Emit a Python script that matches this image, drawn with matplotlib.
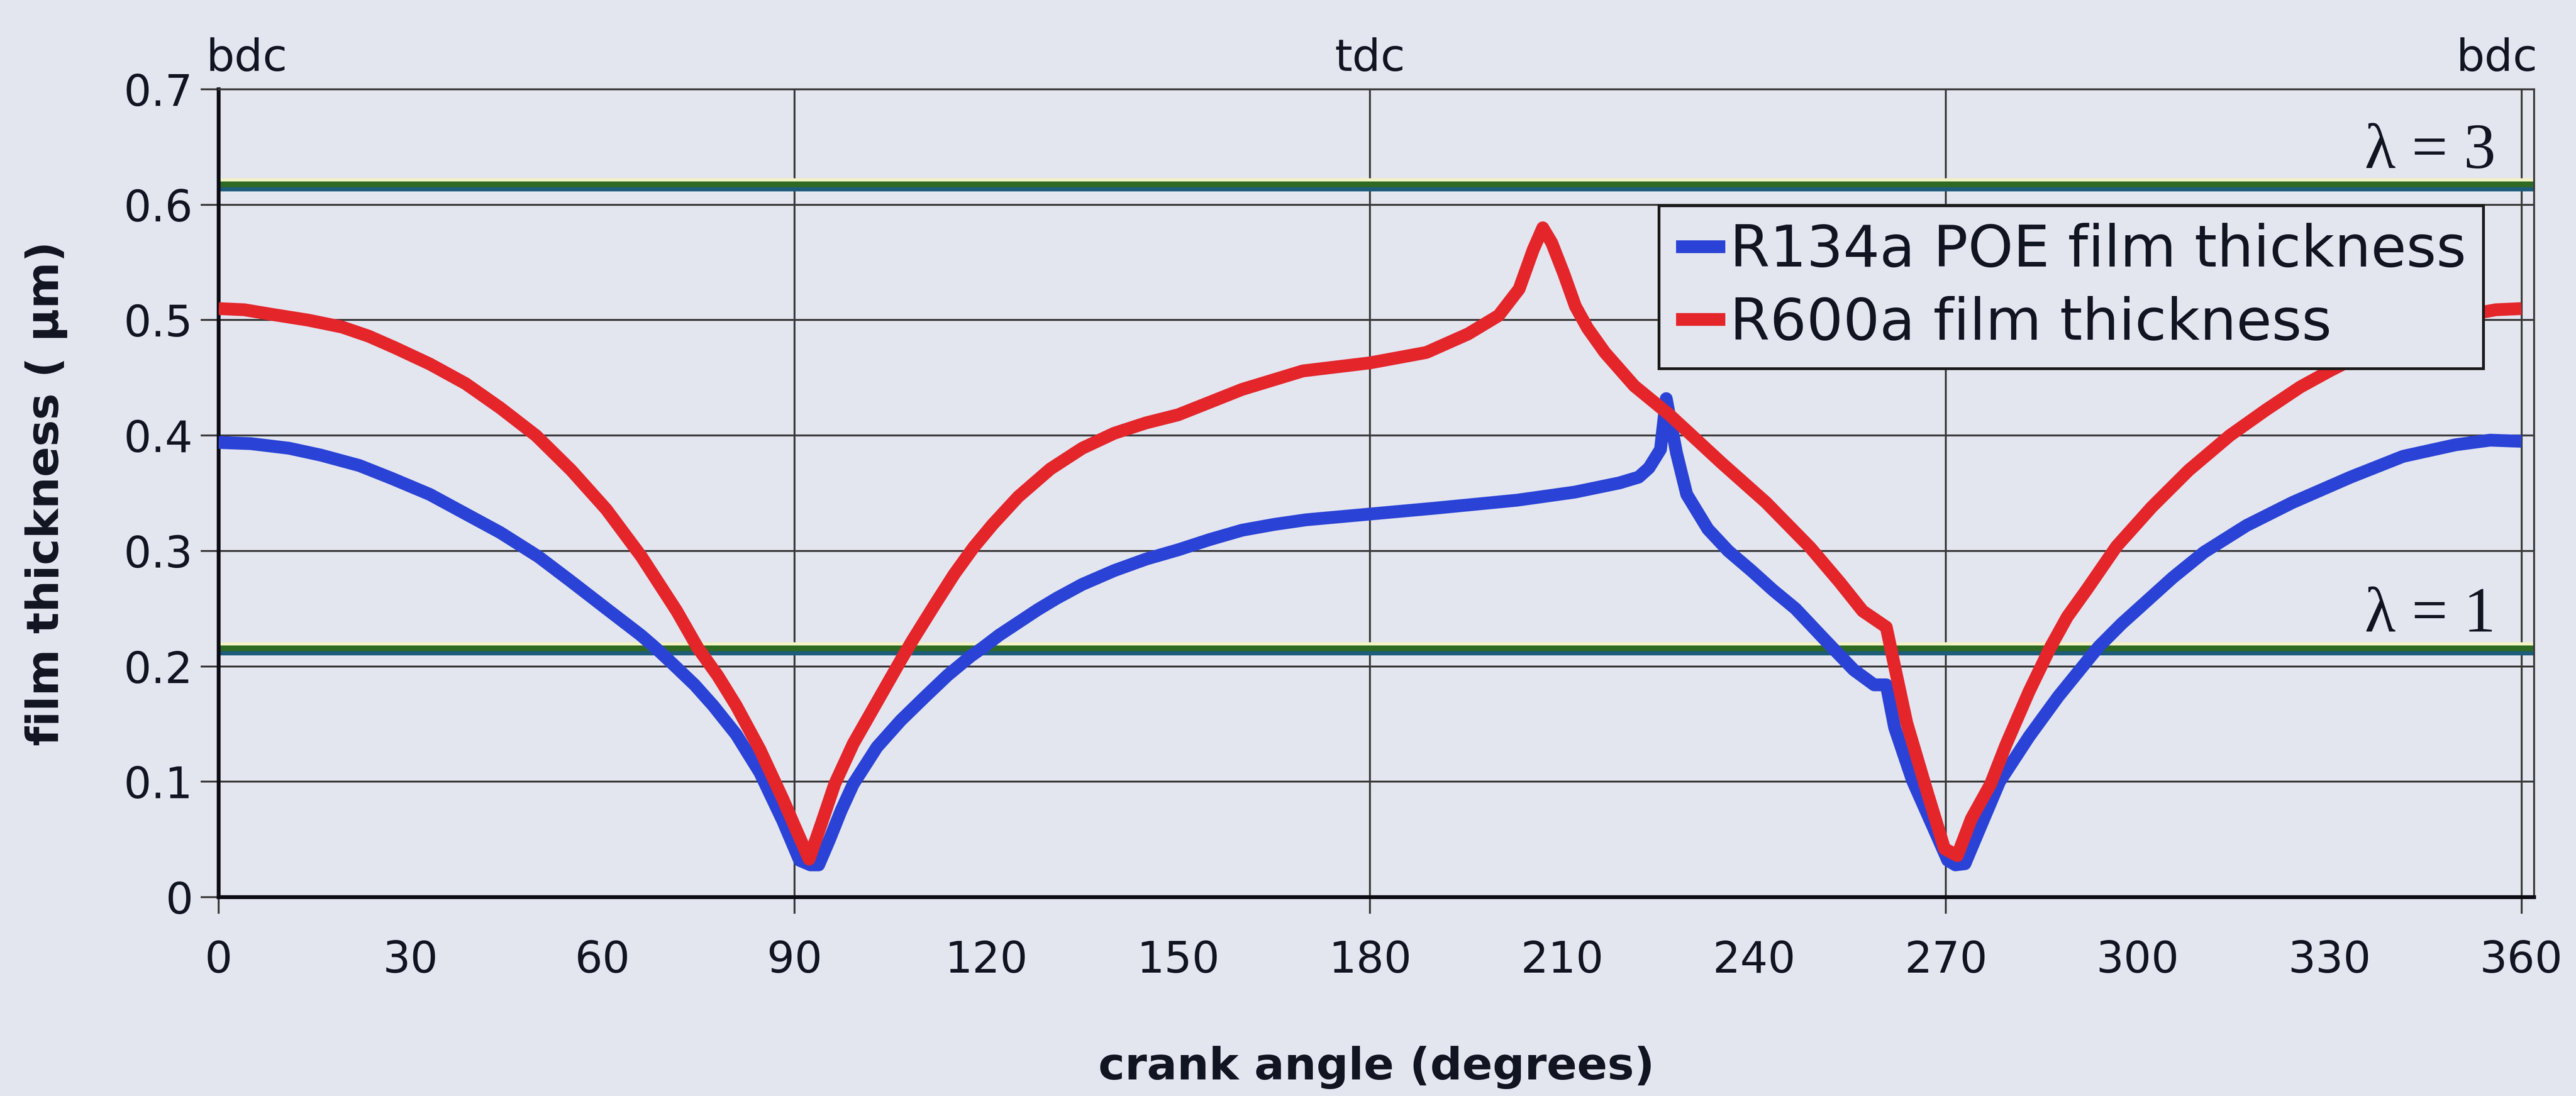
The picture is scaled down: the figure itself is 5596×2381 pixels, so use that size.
"""
Film thickness vs crank angle for R134a/POE and R600a, with lambda = 1 and
lambda = 3 reference lines.
"""

import matplotlib

matplotlib.use("Agg")
import matplotlib.pyplot as plt
import matplotlib.patheffects as pe

# ---- data ---------------------------------------------------------------
r134a_angle = [0, 5, 11, 16, 22, 27, 33, 38, 44, 50, 55, 60.6, 66, 68.3, 71,
               74.4, 77.3, 80.9, 84.6, 88.2, 90.8, 92.5, 93.8, 95.5, 97.3,
               99.2, 102.9, 106.6, 110.3, 113.9, 117.6, 119.4, 122, 125, 128,
               131, 135, 140, 145, 150, 155, 160, 165, 170, 180, 190, 203,
               212, 219, 222, 223.6, 225.4, 226.3, 227.9, 229.5, 232.8, 236,
               239.6, 243, 246.5, 251.1, 255.6, 258.8, 260.7, 262, 264.8, 268,
               270.3, 271.5, 273, 275.5, 278.4, 283, 287.6, 293.9, 297.5,
               301.3, 305.5, 310.4, 317, 324.2, 333.3, 341.5, 349.7, 355.1, 360]
r134a_film = [0.394, 0.393, 0.389, 0.383, 0.374, 0.363, 0.349, 0.334, 0.316,
              0.295, 0.274, 0.250, 0.227, 0.216, 0.202, 0.184, 0.166, 0.141,
              0.108, 0.066, 0.032, 0.028, 0.028, 0.050, 0.075, 0.098, 0.130,
              0.153, 0.173, 0.192, 0.209, 0.216, 0.227, 0.238, 0.249, 0.259,
              0.271, 0.283, 0.293, 0.301, 0.310, 0.318, 0.323, 0.327, 0.332,
              0.337, 0.344, 0.351, 0.359, 0.364, 0.372, 0.388, 0.432, 0.385,
              0.349, 0.319, 0.300, 0.283, 0.266, 0.250, 0.223, 0.197, 0.184,
              0.184, 0.147, 0.101, 0.061, 0.032, 0.028, 0.029, 0.062, 0.100,
              0.139, 0.174, 0.217, 0.237, 0.256, 0.277, 0.299, 0.322, 0.342,
              0.364, 0.382, 0.392, 0.396, 0.395]

r600a_angle = [0, 4, 8.3, 14, 19.3, 23.5, 27.6, 33, 38.6, 44, 49.6, 55.1,
               60.6, 66.1, 71.6, 74.9, 78, 80.9, 84.6, 88.2, 90, 92.3, 94.3,
               96.3, 99.2, 102.9, 106.6, 108.4, 112, 115, 118, 121, 125, 130,
               135, 140, 145, 150, 155, 160, 169.5, 180, 188.8, 195.3, 200.1,
               203.3, 205.5, 207, 208.4, 210.3, 212.1, 214, 216.7, 221.3,
               226.8, 235, 241.9, 248.8, 253.4, 257, 260.7, 262, 263.9, 267.1,
               269.8, 271.8, 274, 277, 279.4, 283, 286.4, 289, 292.1, 296.7,
               302.2, 308, 314.4, 320, 325.4, 330, 336.4, 340, 344.7, 348,
               352, 356, 360]
r600a_film = [0.510, 0.509, 0.505, 0.500, 0.494, 0.486, 0.476, 0.462, 0.445,
              0.424, 0.400, 0.370, 0.336, 0.295, 0.248, 0.216, 0.192, 0.166,
              0.128, 0.085, 0.062, 0.033, 0.065, 0.098, 0.133, 0.169, 0.205,
              0.222, 0.254, 0.280, 0.303, 0.323, 0.347, 0.371, 0.389, 0.402,
              0.411, 0.418, 0.429, 0.440, 0.456, 0.463, 0.472, 0.488, 0.504,
              0.527, 0.561, 0.580, 0.567, 0.540, 0.512, 0.493, 0.472, 0.443,
              0.418, 0.376, 0.342, 0.303, 0.273, 0.248, 0.234, 0.200, 0.151,
              0.091, 0.042, 0.036, 0.068, 0.098, 0.132, 0.178, 0.217, 0.243,
              0.267, 0.304, 0.338, 0.370, 0.400, 0.422, 0.442, 0.456, 0.474,
              0.483, 0.494, 0.500, 0.505, 0.509, 0.510]

lambda_levels = [0.216, 0.618]
lambda_labels = ["λ = 1", "λ = 3"]

series_labels = ["R134a POE film thickness", "R600a film thickness"]

x_major = [0, 90, 180, 270, 360]
x_minor = [30, 60, 120, 150, 210, 240, 300, 330]
y_ticks = [0, 0.1, 0.2, 0.3, 0.4, 0.5, 0.6, 0.7]
y_tick_labels = ["0", "0.1", "0.2", "0.3", "0.4", "0.5", "0.6", "0.7"]

dead_centre_angle = [0, 180, 360]
dead_centre_text = ["bdc", "tdc", "bdc"]

# ---- styling ------------------------------------------------------------
BG = "#e3e5ef"
BLUE = "#2a43d6"
RED = "#e4262b"
GRID = "#3a3a3a"
INK = "#111522"

plt.rcParams["font.family"] = ["DejaVu Sans"]

fig = plt.figure(figsize=(27.98, 11.905), dpi=200, facecolor=BG)
ax = fig.add_axes([0.0849, 0.1814, 0.8989, 0.7371], facecolor=BG)

ax.set_xlim(0, 362)
ax.set_ylim(0, 0.7)

# lambda reference lines: green over a teal edge
for level in lambda_levels:
    ax.axhline(
        level, color="#2f6a25", lw=4.5, zorder=2,
        path_effects=[
            pe.SimpleLineShadow(offset=(0, 2.5), shadow_color="#f2f2c4", alpha=1.0),
            pe.SimpleLineShadow(offset=(0, -3.5), shadow_color="#1d5c7a", alpha=1.0),
            pe.Normal(),
        ],
    )

ax.plot(r134a_angle, r134a_film, color=BLUE, lw=10, label=series_labels[0],
        zorder=3, solid_joinstyle="round", solid_capstyle="butt")
ax.plot(r600a_angle, r600a_film, color=RED, lw=10, label=series_labels[1],
        zorder=4, solid_joinstyle="round", solid_capstyle="butt")

# ticks
ax.set_xticks(x_major)
ax.set_xticklabels([str(v) for v in x_major])
ax.set_xticks(x_minor, minor=True)
ax.set_xticklabels([str(v) for v in x_minor], minor=True)
ax.tick_params(axis="x", which="major", direction="out", length=13, width=1.5,
               color=GRID, pad=20, labelsize=34, labelcolor=INK)
ax.tick_params(axis="x", which="minor", length=0, pad=33, labelsize=34,
               labelcolor=INK)

ax.set_yticks(y_ticks)
ax.set_yticklabels(y_tick_labels)
ax.tick_params(axis="y", direction="out", length=14, width=1.5, color=GRID,
               pad=6, labelsize=34, labelcolor=INK)

ax.grid(True, which="major", color=GRID, lw=1.5, zorder=1)
ax.set_axisbelow(True)

for side in ["left", "bottom"]:
    ax.spines[side].set_linewidth(3)
    ax.spines[side].set_color("#0b0b14")
for side in ["top", "right"]:
    ax.spines[side].set_linewidth(1.5)
    ax.spines[side].set_color(GRID)

ax.set_xlabel("crank angle (degrees)", fontsize=35, fontweight="bold",
              color=INK, labelpad=50)
ax.set_ylabel("film thickness ( μm)", fontsize=35, fontweight="bold",
              color=INK, labelpad=44)

# bdc / tdc markers above the plot
aligns = ["left", "center", "right"]
nudges = [-2, 0, 2.5]
for angle, txt, ha, dx in zip(dead_centre_angle, dead_centre_text, aligns, nudges):
    ax.text(angle + dx, 0.716, txt, ha=ha, va="baseline", fontsize=35,
            color=INK, clip_on=False)

# lambda labels
for level, txt in zip(lambda_levels, lambda_labels):
    ax.text(356, level + 0.014, txt, ha="right", va="baseline", fontsize=50,
            family=["Liberation Serif", "DejaVu Serif"], color=INK, zorder=5)

leg = ax.legend(loc="upper right", bbox_to_anchor=(0.978, 0.856), fontsize=45,
                handlelength=0.85, handletextpad=0.08, labelspacing=0.3,
                borderpad=0.3, fancybox=False, framealpha=1.0,
                facecolor=BG, edgecolor="#1a1a1a", borderaxespad=0)
leg.get_frame().set_linewidth(2.2)
for text in leg.get_texts():
    text.set_color(INK)

fig.savefig("out.png", dpi=200, facecolor=BG)
